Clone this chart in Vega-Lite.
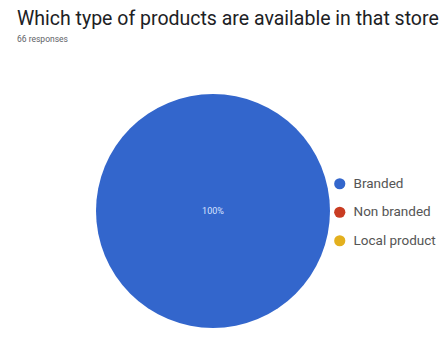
{
  "$schema": "https://vega.github.io/schema/vega-lite/v6.json",
  "width": 392,
  "height": 322,
  "autosize": "none",
  "padding": {"left": 17, "top": 50, "right": 31, "bottom": 0},
  "background": "white",
  "title": {
    "text": "Which type of products are available in that store",
    "subtitle": "66 responses",
    "anchor": "start",
    "frame": "group",
    "font": "Roboto",
    "fontSize": 19.5,
    "fontWeight": "normal",
    "color": "#202124",
    "subtitleFont": "Roboto",
    "subtitleFontSize": 8.5,
    "subtitleColor": "#5f6368",
    "subtitlePadding": 5,
    "offset": 6
  },
  "data": {
    "values": [
      {"type": "Branded", "count": 66, "label": "100%"},
      {"type": "Non branded", "count": 0, "label": "0%"},
      {"type": "Local product", "count": 0, "label": "0%"}
    ]
  },
  "layer": [
    {
      "mark": {"type": "arc", "outerRadius": 117},
      "encoding": {
        "theta": {"field": "count", "type": "quantitative", "stack": true},
        "color": {
          "field": "type",
          "type": "nominal",
          "sort": ["Branded", "Non branded", "Local product"],
          "scale": {"domain": ["Branded", "Non branded", "Local product"], "range": ["#3366cc", "#c93c22", "#e3b01e"]},
          "legend": {
            "title": null,
            "orient": "none",
            "legendX": 316,
            "legendY": 127,
            "symbolType": "circle",
            "symbolSize": 125,
            "symbolStrokeWidth": 0,
            "labelFont": "Roboto",
            "labelFontSize": 13.5,
            "labelColor": "#555555",
            "labelOffset": 7,
            "labelLimit": 200,
            "rowPadding": 13.5
          }
        }
      }
    },
    {
      "transform": [{"filter": "datum.count > 0"}],
      "mark": {"type": "text", "font": "Roboto", "fontSize": 9, "color": "#d8e4ff"},
      "encoding": {
        "text": {"field": "label", "type": "nominal"}
      }
    }
  ],
  "config": {"view": {"stroke": null}}
}
